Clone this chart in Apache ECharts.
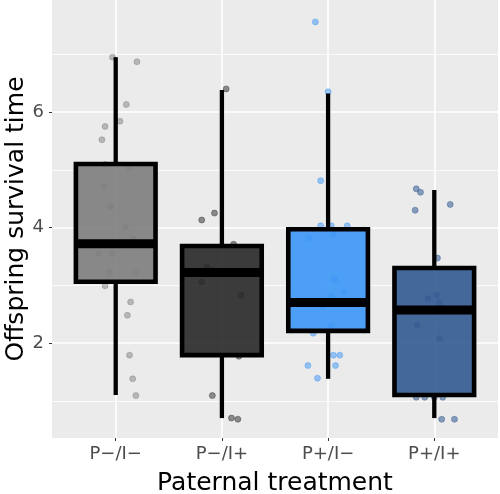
<!DOCTYPE html>
<html>
<head>
<meta charset="utf-8">
<script src="https://cdn.jsdelivr.net/npm/echarts@6/dist/echarts.min.js"></script>
<style>html,body{margin:0;padding:0;background:#fff}#c{width:500px;height:494px}</style>
</head>
<body>
<div id="c"></div>
<script>
// ---- data ----
const categories = ['P\u2212/I\u2212', 'P\u2212/I+', 'P+/I\u2212', 'P+/I+'];
const whiskerLow  = [1.10, 0.70, 1.38, 0.70];
const boxQ1       = [3.06, 1.79, 2.21, 1.10];
const boxMedian   = [3.72, 3.22, 2.70, 2.57];
const boxQ3       = [5.10, 3.68, 3.97, 3.30];
const whiskerHigh = [6.95, 6.38, 6.32, 4.65];
const yTicks = [2, 4, 6];
const yMinor = [1, 3, 5, 7];

const g1Values = [6.95, 6.87, 6.13, 5.84, 5.75, 5.52, 5.09, 5.03, 4.71, 4.37, 4.01, 3.80, 3.55, 3.55, 3.22, 3.22, 2.99, 2.71, 2.48, 1.79, 1.38, 1.09];
const g1Jitter = [-0.03, 0.20, 0.10, 0.04, -0.10, -0.13, -0.10, 0.13, -0.11, -0.05, 0.09, 0.17, -0.16, -0.03, -0.06, 0.19, -0.10, 0.14, 0.11, 0.13, 0.16, 0.19];
const g2Values = [6.40, 4.25, 4.13, 3.71, 3.31, 3.26, 3.06, 2.83, 1.77, 1.09, 0.70, 0.68];
const g2Jitter = [0.04, -0.07, -0.19, 0.11, -0.14, -0.09, -0.19, 0.18, 0.16, -0.09, 0.09, 0.15];
const g3Values = [7.56, 6.35, 4.81, 4.03, 4.03, 4.03, 3.88, 3.82, 3.10, 2.89, 2.80, 2.64, 2.30, 2.17, 1.79, 1.79, 1.61, 1.61, 1.39];
const g3Jitter = [-0.12, 0.00, -0.07, -0.07, 0.03, 0.18, 0.05, -0.18, 0.06, 0.15, 0.03, -0.05, 0.03, -0.14, 0.05, 0.11, -0.19, 0.07, -0.10];
const g4Values = [4.67, 4.61, 4.40, 4.30, 3.47, 2.83, 2.77, 2.70, 2.31, 2.08, 1.06, 1.06, 1.06, 1.06, 0.68, 0.68];
const g4Jitter = [-0.17, -0.13, 0.15, -0.18, 0.03, 0.02, -0.06, 0.05, -0.16, 0.05, -0.17, -0.09, 0.00, 0.08, 0.07, 0.19];

const boxFill = ['rgba(125,125,125,0.9)', 'rgba(40,40,40,0.9)', 'rgba(60,150,246,0.9)', 'rgba(51,90,145,0.9)'];
const pointFill = ['rgba(110,110,110,0.42)', 'rgba(40,40,40,0.5)', 'rgba(60,150,246,0.5)', 'rgba(51,90,145,0.55)'];

const FONT = '"DejaVu Sans", "Liberation Sans", Arial, sans-serif';
const groups = [[g1Values, g1Jitter], [g2Values, g2Jitter], [g3Values, g3Jitter], [g4Values, g4Jitter]];

const boxData = categories.map((c, i) => [i + 1, whiskerLow[i], boxQ1[i], boxMedian[i], boxQ3[i], whiskerHigh[i]]);

const gridMarks = [];
yMinor.forEach(v => gridMarks.push({ yAxis: v, lineStyle: { color: '#fff', width: 0.8, type: 'solid' } }));
yTicks.forEach(v => gridMarks.push({ yAxis: v, lineStyle: { color: '#fff', width: 1.6, type: 'solid' } }));
categories.forEach((c, i) => gridMarks.push({ xAxis: i + 1, lineStyle: { color: '#fff', width: 1.6, type: 'solid' } }));

const series = [{
  type: 'line', data: [], z: 1, silent: true,
  markLine: { z: 1, silent: true, symbol: ['none', 'none'], label: { show: false }, animation: false, data: gridMarks }
}];
groups.forEach((g, gi) => {
  series.push({
    type: 'scatter', z: 2, silent: true,
    symbolSize: 6,
    itemStyle: { color: pointFill[gi], borderColor: pointFill[gi], borderWidth: 0.8, opacity: 1 },
    data: g[0].map((v, k) => [gi + 1 + g[1][k], v])
  });
});
series.push({
  type: 'custom', z: 3, silent: true,
  data: boxData,
  renderItem: function (params, api) {
    const x = api.value(0), lo = api.value(1), q1 = api.value(2), med = api.value(3), q3 = api.value(4), hi = api.value(5);
    const hw = 0.375;
    const pTL = api.coord([x - hw, q3]);
    const pBR = api.coord([x + hw, q1]);
    const pM1 = api.coord([x - hw, med]);
    const pM2 = api.coord([x + hw, med]);
    const pHi = api.coord([x, hi]);
    const pLo = api.coord([x, lo]);
    const idx = params.dataIndex;
    return {
      type: 'group',
      children: [
        { type: 'line', shape: { x1: pHi[0], y1: pHi[1], x2: pHi[0], y2: pTL[1] }, style: { stroke: '#000', lineWidth: 4.3 } },
        { type: 'line', shape: { x1: pLo[0], y1: pBR[1], x2: pLo[0], y2: pLo[1] }, style: { stroke: '#000', lineWidth: 4.3 } },
        { type: 'rect', shape: { x: pTL[0], y: pTL[1], width: pBR[0] - pTL[0], height: pBR[1] - pTL[1] },
          style: { fill: boxFill[idx], stroke: '#000', lineWidth: 4.6, lineJoin: 'miter' } },
        { type: 'line', shape: { x1: pM1[0], y1: pM1[1], x2: pM2[0], y2: pM2[1] }, style: { stroke: '#000', lineWidth: 9 } }
      ]
    };
  }
});

const chart = echarts.init(document.getElementById('c'), null, { renderer: 'canvas' });
chart.setOption({
  animation: false,
  backgroundColor: '#fff',
  grid: { left: 52, right: 2, top: 0, bottom: 56, show: true, backgroundColor: '#EBEBEB', borderWidth: 0, outerBoundsMode: 'none', containLabel: false },
  xAxis: {
    type: 'value', min: 0.4, max: 4.6,
    axisLine: { show: false },
    splitLine: { show: false },
    axisTick: { show: true, customValues: [1, 2, 3, 4], length: 3, lineStyle: { color: '#333', width: 1 } },
    axisLabel: { customValues: [1, 2, 3, 4], formatter: v => categories[Math.round(v) - 1], fontSize: 18, color: '#4d4d4d', fontFamily: FONT, margin: 7 },
    name: 'Paternal treatment', nameLocation: 'middle', nameGap: 33, nameMoveOverlap: false,
    nameTextStyle: { fontSize: 25, color: '#000', fontFamily: FONT }
  },
  yAxis: {
    type: 'value', min: 0.355, max: 7.94,
    axisLine: { show: false },
    splitLine: { show: false },
    axisTick: { show: true, customValues: yTicks, length: 3, lineStyle: { color: '#333', width: 1 } },
    axisLabel: { customValues: yTicks, fontSize: 18, color: '#4d4d4d', fontFamily: FONT, margin: 8 },
    name: 'Offspring survival time', nameLocation: 'middle', nameGap: 23, nameMoveOverlap: false,
    nameTextStyle: { fontSize: 25, color: '#000', fontFamily: FONT }
  },
  series: series
});
</script>
</body>
</html>
